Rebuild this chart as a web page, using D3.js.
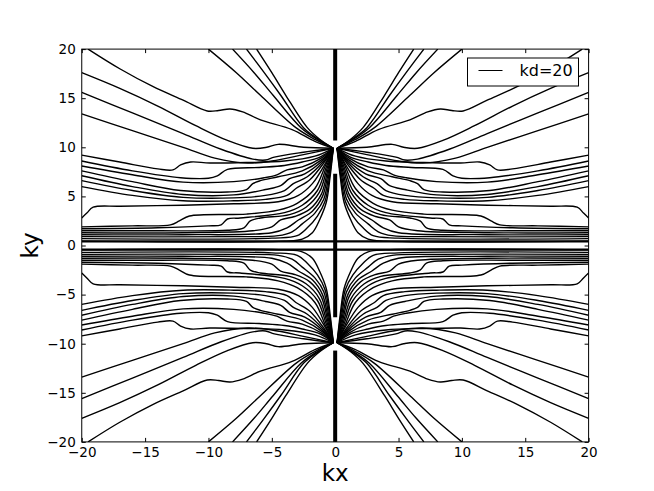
<!DOCTYPE html>
<html>
<head>
<meta charset="utf-8">
<script src="https://cdn.jsdelivr.net/npm/d3@7/dist/d3.min.js"></script>
<style>
  body { margin: 0; background: #fff; }
  svg { display: block; }
  text { font-family: "DejaVu Sans", sans-serif; }
</style>
</head>
<body>
<div id="chart"></div>
<script>
// tick labels
const xTicks = [-20, -15, -10, -5, 0, 5, 10, 15, 20];
const yTicks = [-20, -15, -10, -5, 0, 5, 10, 15, 20];
const legendLabel = "kd=20";

const up1 = [[0.15, 9.9], [1.2, 10.8], [2.2, 12], [3.9, 15.3], [5, 17.6], [6.2, 20]];
const up2 = [[0.15, 9.9], [1.3, 10.8], [2.5, 12], [4.3, 15.3], [5.6, 17.6], [7.0, 20]];
const up3 = [[0.15, 9.9], [1.4, 10.8], [2.7, 12], [4.9, 15.3], [6.4, 17.6], [8.1, 20]];
const up4 = [[0.15, 9.9], [1.6, 10.8], [3.1, 12], [5.9, 15.3], [7.8, 17.6], [10, 20]];
const bump = [[0.15, 9.9], [1.6, 10.6], [3.4, 11.8], [5.9, 12.8], [7.3, 13.6], [8.3, 13.9], [9.2, 13.75],
  [10.1, 13.7], [12, 14.8], [14.4, 16.2], [17, 18], [19.5, 20]];
const side1 = [[0.15, 9.9], [2.5, 10.0], [4.5, 10.3], [5.4, 10.0], [6.5, 9.9], [8.5, 10.7], [11, 12.2],
  [14, 14.2], [17, 16], [20, 17.6]];
const side2 = [[0.15, 9.9], [2.5, 9.5], [4.8, 9.0], [5.5, 8.7], [6.5, 8.8], [9, 9.8], [12, 11.4],
  [16, 13.5], [20, 15.6]];
const side3 = [[0.15, 9.9], [2.5, 9.25], [5, 8.6], [6.9, 8.4], [9.5, 8.9], [12, 10], [16, 11.7], [20, 13.4]];
const side4 = [[0.15, 9.9], [1.6, 9.1], [4, 8.6], [7, 8.45], [9.9, 8.4], [11.4, 8.5], [12.2, 8.2],
  [12.8, 7.7], [14, 7.8], [17, 8.5], [20, 9.2]];
const mid1 = [[0.15, 9.9], [1.2, 9.0], [2.6, 8.5], [4, 8.15], [6, 7.95], [8.5, 7.75], [9.3, 7.1], [10, 6.85],
  [12.2, 6.9], [16, 7.6], [20, 8.6]];
const mid2 = [[0.15, 9.9], [1.1, 8.9], [2.6, 8.0], [3.8, 7.7], [4.6, 7.2], [5.6, 6.9], [8, 6.5], [12, 6.45],
  [16, 7.2], [20, 8.1]];
const mid3 = [[0.15, 9.9], [1.0, 8.8], [2.6, 7.6], [4.5, 7.0], [5.9, 6.6], [6.5, 6.3], [7.0, 5.7],
  [8.5, 5.45], [12.2, 5.6], [16, 6.5], [20, 7.6]];
const mid4 = [[0.15, 9.9], [0.95, 8.7], [2.4, 7.3], [3.6, 6.8], [4.3, 6.1], [5.5, 5.7], [8, 5.15],
  [12, 5.2], [16, 6.0], [20, 7.1]];
const mid5 = [[0.15, 9.9], [0.9, 8.6], [2.2, 7.0], [3.3, 6.3], [4, 5.6], [5.5, 5.1], [8, 4.85], [12, 4.9],
  [16, 5.6], [20, 6.6]];
const mid6 = [[0.15, 9.9], [0.85, 8.5], [2, 6.7], [3.1, 5.8], [3.8, 5.1], [5.5, 4.7], [8, 4.55], [12, 4.55],
  [16, 5.1], [20, 6.0]];
const shelf = [[0.15, 9.9], [0.8, 8.3], [1.8, 6.3], [2.9, 5.1], [4.5, 4.45], [8, 4.25], [12, 4.1],
  [17, 4.0], [19.1, 3.9], [19.6, 3.3], [20, 2.8]];
const low1 = [[0.15, 9.9], [0.75, 8.2], [1.6, 5.8], [3, 4.3], [4.5, 3.6], [7, 3.2], [11.5, 3.0], [12.3, 2.5],
  [13, 2.1], [16, 2.0], [20, 1.9]];
const low2 = [[0.15, 9.9], [0.7, 8.0], [1.4, 5.6], [2.6, 4.1], [4, 3.35], [7.5, 2.8], [8.5, 2.7],
  [9, 2.1], [10, 2.0], [14, 1.8], [20, 1.7]];
const low3 = [[0.15, 9.9], [0.65, 7.8], [1.25, 5.4], [2.3, 3.9], [3.6, 3.15], [5.9, 2.8], [6.7, 2.5],
  [7.2, 1.8], [8.5, 1.55], [14, 1.5], [20, 1.5]];
const low4 = [[0.15, 9.9], [0.6, 7.6], [1.1, 5.2], [2, 3.7], [3.2, 2.95], [4.3, 2.6], [5, 1.9], [6.5, 1.5],
  [12, 1.3], [20, 1.3]];
const low5 = [[0.15, 9.9], [0.55, 7.4], [1.0, 5.0], [1.8, 3.5], [2.9, 2.6], [3.8, 1.8], [5, 1.3],
  [12, 1.1], [20, 1.1]];
const low6 = [[0.15, 9.9], [0.5, 7.2], [0.9, 4.7], [1.6, 3.3], [2.6, 2.2], [3.4, 1.4], [4.5, 1.0],
  [8, 0.9], [20, 0.9]];
const low7 = [[0.15, 9.9], [0.45, 7], [0.8, 4.5], [1.4, 3.0], [2.2, 1.8], [3, 1.0], [5, 0.75], [20, 0.7]];
const low8 = [[0.15, 9.9], [0.4, 7], [0.7, 4.4], [1.2, 2.7], [1.8, 1.3], [2.6, 0.65], [4, 0.45], [20, 0.45]];

// thick pieces on the axes: vertical bar spans on kx = 0, horizontal lines at ky = ±level
const barSpans = [[20, 10.7], [7.3, -7.3], [-10.7, -20]];
const flatLevels = [0.42, -0.42];

const curves = [up1, up2, up3, up4, bump, side1, side2, side3, side4,
  mid1, mid2, mid3, mid4, mid5, mid6, shelf,
  low1, low2, low3, low4, low5, low6, low7, low8];
const mirrors = [[1, 1], [-1, 1], [1, -1], [-1, -1]];

const width = 654, height = 491;
const margin = { top: 49.1, right: 65.4, bottom: 49.1, left: 81.75 };

const svg = d3.select("#chart")
    .append("svg")
    .attr("width", width)
    .attr("height", height);

const x = d3.scaleLinear().domain([-20, 20]).range([margin.left, width - margin.right]);
const y = d3.scaleLinear().domain([-20, 20]).range([height - margin.bottom, margin.top]);

svg.append("defs").append("clipPath")
    .attr("id", "plot-clip")
    .append("rect")
    .attr("x", x(-20)).attr("y", y(20))
    .attr("width", x(20) - x(-20)).attr("height", y(-20) - y(20));

const plot = svg.append("g").attr("clip-path", "url(#plot-clip)");

// draw every curve in all four quadrants
mirrors.forEach(([sx, sy]) => {
    const line = d3.line()
        .x(d => x(d[0] * sx))
        .y(d => y(d[1] * sy))
        .curve(d3.curveCatmullRom.alpha(0.5));
    plot.append("g")
        .selectAll("path")
        .data(curves)
        .join("path")
        .attr("d", line)
        .attr("fill", "none")
        .attr("stroke", "#000")
        .attr("stroke-width", 1.4);
});

plot.selectAll("line.flat")
    .data(flatLevels)
    .join("line")
    .attr("class", "flat")
    .attr("x1", x(-20)).attr("x2", x(20))
    .attr("y1", d => y(d)).attr("y2", d => y(d))
    .attr("stroke", "#000")
    .attr("stroke-width", 2.2);

plot.selectAll("line.bar")
    .data(barSpans)
    .join("line")
    .attr("class", "bar")
    .attr("x1", x(0)).attr("x2", x(0))
    .attr("y1", d => y(d[0])).attr("y2", d => y(d[1]))
    .attr("stroke", "#000")
    .attr("stroke-width", 4);

// axes, ticks pointing inward on all four sides
const bottomAxis = d3.axisBottom(x).tickValues(xTicks).tickSizeInner(-4).tickSizeOuter(0).tickPadding(6);
const leftAxis = d3.axisLeft(y).tickValues(yTicks).tickSizeInner(-4).tickSizeOuter(0).tickPadding(6);
const topAxis = d3.axisTop(x).tickValues(xTicks).tickSizeInner(-4).tickSizeOuter(0).tickFormat("");
const rightAxis = d3.axisRight(y).tickValues(yTicks).tickSizeInner(-4).tickSizeOuter(0).tickFormat("");

function styleAxis(g) {
    g.select(".domain").remove();
    g.selectAll("line").attr("stroke", "#000");
    g.selectAll("text")
        .attr("fill", "#000")
        .style("font-family", "DejaVu Sans, sans-serif")
        .style("font-size", "13.5px");
}

svg.append("g").attr("transform", `translate(0,${y(-20)})`).call(bottomAxis).call(styleAxis);
svg.append("g").attr("transform", `translate(${x(-20)},0)`).call(leftAxis).call(styleAxis);
svg.append("g").attr("transform", `translate(0,${y(20)})`).call(topAxis).call(styleAxis);
svg.append("g").attr("transform", `translate(${x(20)},0)`).call(rightAxis).call(styleAxis);

svg.append("rect")
    .attr("x", x(-20)).attr("y", y(20))
    .attr("width", x(20) - x(-20)).attr("height", y(-20) - y(20))
    .attr("fill", "none")
    .attr("stroke", "#000")
    .attr("stroke-width", 1);

// legend
const legend = svg.append("g").attr("transform", "translate(467.5,58)");
legend.append("rect")
    .attr("width", 111).attr("height", 28)
    .attr("fill", "#fff")
    .attr("stroke", "#000")
    .attr("stroke-width", 1);
legend.append("line")
    .attr("x1", 11).attr("x2", 35)
    .attr("y1", 12.5).attr("y2", 12.5)
    .attr("stroke", "#000")
    .attr("stroke-width", 1);
legend.append("text")
    .attr("x", 52).attr("y", 18)
    .style("font-size", "16px")
    .text(legendLabel);

// axis labels
svg.append("text")
    .attr("x", (x(-20) + x(20)) / 2)
    .attr("y", 481)
    .attr("text-anchor", "middle")
    .style("font-size", "23px")
    .text("kx");

svg.append("text")
    .attr("transform", `translate(38,${(y(-20) + y(20)) / 2}) rotate(-90)`)
    .attr("text-anchor", "middle")
    .style("font-size", "23px")
    .text("ky");
</script>
</body>
</html>
